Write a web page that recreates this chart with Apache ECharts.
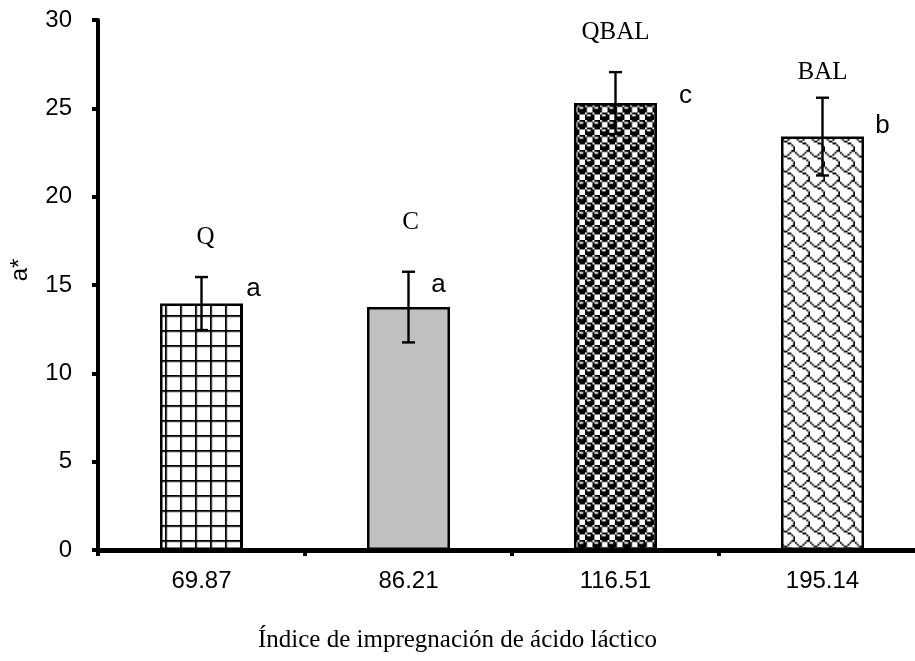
<!DOCTYPE html>
<html>
<head>
<meta charset="utf-8">
<title>a* vs índice de impregnación</title>
<script src="https://cdn.jsdelivr.net/npm/echarts@6/dist/echarts.min.js"></script>
<style>
  html, body { margin: 0; padding: 0; background: #fff; }
  #chart { width: 915px; height: 661px; }
</style>
</head>
<body>
<div id="chart"></div>
<script>
// Lactic acid impregnation index (category) and a* colour coordinate
const categories = ['69.87', '86.21', '116.51', '195.14'];
const groups = ['Q', 'C', 'QBAL', 'BAL'];
const meanA = [13.95, 13.75, 25.3, 23.4];
const errA = [1.5, 2.0, 1.75, 2.2];
const letters = ['a', 'a', 'c', 'b'];

// 8x8 hatch bitmaps (MSB = leftmost pixel)
const HATCH = {
  largeGrid: [0xff, 0x80, 0x80, 0x80, 0x80, 0x80, 0x80, 0x80],
  sphere:    [0x77, 0x89, 0x8f, 0x8f, 0x77, 0x98, 0xf8, 0xf8],
  shingle:   [0x03, 0x84, 0x48, 0x30, 0x0c, 0x02, 0x01, 0x01]
};

function hatchTile(bits, size) {
  const small = document.createElement('canvas');
  small.width = 8; small.height = 8;
  const sctx = small.getContext('2d');
  const img = sctx.createImageData(8, 8);
  for (let r = 0; r < 8; r++) {
    for (let c = 0; c < 8; c++) {
      const on = (bits[r] >> (7 - c)) & 1;
      const k = (r * 8 + c) * 4;
      const v = on ? 0 : 255;
      img.data[k] = v; img.data[k + 1] = v; img.data[k + 2] = v; img.data[k + 3] = 255;
    }
  }
  sctx.putImageData(img, 0, 0);
  const big = document.createElement('canvas');
  big.width = size; big.height = size;
  const bctx = big.getContext('2d');
  bctx.imageSmoothingEnabled = true;
  bctx.drawImage(small, 0, 0, size, size);
  return big;
}

const fills = [
  { image: hatchTile(HATCH.largeGrid, 15), repeat: 'repeat' },
  '#c0c0c0',
  { image: hatchTile(HATCH.sphere, 15), repeat: 'repeat' },
  { image: hatchTile(HATCH.shingle, 15), repeat: 'repeat' }
];

// label placement relative to the top of each error bar: [dx, dy]
const letterOffset = [[52, 12], [30, 13], [70, 24], [60, 28]];
const groupOffset = [[4, -40], [2, -49], [0, -40], [0, -25]];

const chart = echarts.init(document.getElementById('chart'), null, { renderer: 'canvas' });

const option = {
  animation: false,
  backgroundColor: '#fff',
  // the category band runs past the right edge of the canvas
  grid: { left: 98, width: 828, top: 20, bottom: 111, containLabel: false, outerBoundsMode: 'none' },
  title: {
    text: 'Índice de impregnación de ácido láctico',
    left: 'center',
    top: 623,
    textStyle: { fontFamily: 'Liberation Serif', fontSize: 25, fontWeight: 'normal', color: '#000' }
  },
  graphic: [{
    type: 'text',
    x: 20, y: 270,
    rotation: Math.PI / 2,
    style: {
      text: 'a*', fill: '#000',
      font: '24px "Liberation Sans"',
      align: 'center', verticalAlign: 'middle'
    }
  }],
  xAxis: {
    type: 'category',
    data: categories,
    axisLine: { lineStyle: { color: '#000', width: 5 } },
    axisTick: { show: true, length: 6, lineStyle: { color: '#000', width: 4 } },
    axisLabel: { color: '#000', fontFamily: 'Liberation Sans', fontSize: 24, margin: 19 },
    splitLine: { show: false }
  },
  yAxis: {
    type: 'value',
    min: 0, max: 30, interval: 5,
    axisLine: { show: true, lineStyle: { color: '#000', width: 4 } },
    axisTick: { show: true, length: 6, lineStyle: { color: '#000', width: 4 } },
    axisLabel: { color: '#000', fontFamily: 'Liberation Sans', fontSize: 24, margin: 26 },
    splitLine: { show: false }
  },
  series: [
    {
      type: 'bar',
      barWidth: 83,
      data: meanA.map((v, i) => ({
        value: v,
        itemStyle: { color: fills[i], borderColor: '#000', borderWidth: 2.5 }
      }))
    },
    {
      type: 'custom',
      z: 5,
      data: categories.map((c, i) => [i, meanA[i], errA[i]]),
      renderItem: function (params, api) {
        const i = params.dataIndex;
        const x = api.value(0), v = api.value(1), e = api.value(2);
        const hi = api.coord([x, v + e]);
        const lo = api.coord([x, v - e]);
        const cap = 6.5;
        const ls = { stroke: '#000', lineWidth: 2.4 };
        return {
          type: 'group',
          children: [
            { type: 'line', shape: { x1: hi[0], y1: hi[1], x2: lo[0], y2: lo[1] }, style: ls },
            { type: 'line', shape: { x1: hi[0] - cap, y1: hi[1], x2: hi[0] + cap, y2: hi[1] }, style: ls },
            { type: 'line', shape: { x1: lo[0] - cap, y1: lo[1], x2: lo[0] + cap, y2: lo[1] }, style: ls },
            {
              type: 'text',
              style: {
                text: letters[i], fill: '#000',
                x: hi[0] + letterOffset[i][0], y: hi[1] + letterOffset[i][1],
                font: '26px "Liberation Sans"', align: 'center', verticalAlign: 'middle'
              }
            },
            {
              type: 'text',
              style: {
                text: groups[i], fill: '#000',
                x: hi[0] + groupOffset[i][0], y: hi[1] + groupOffset[i][1],
                font: '25px "Liberation Serif"', align: 'center', verticalAlign: 'middle'
              }
            }
          ]
        };
      }
    }
  ]
};

chart.setOption(option);
</script>
</body>
</html>
